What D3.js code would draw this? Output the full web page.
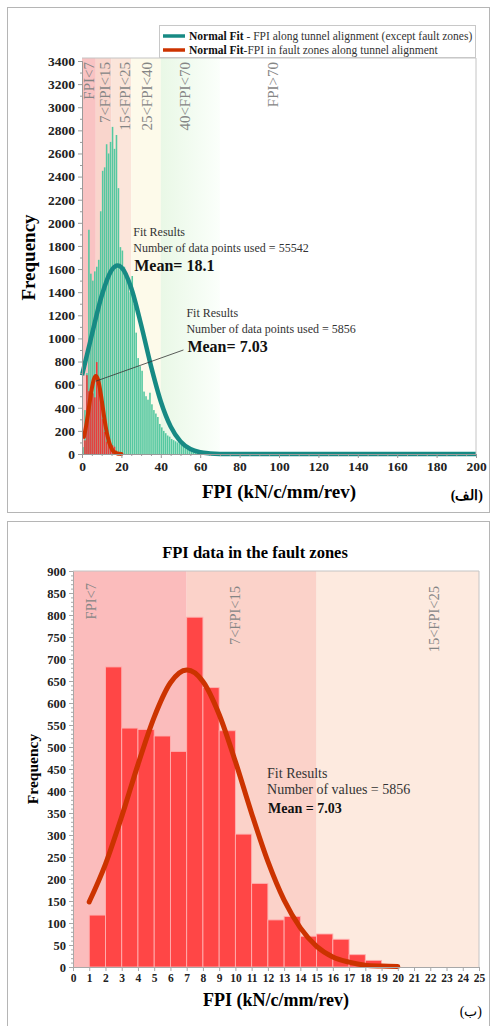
<!DOCTYPE html>
<html><head><meta charset="utf-8">
<script src="https://cdn.jsdelivr.net/npm/d3@7"></script>
<style>
body{margin:0;background:#fff}
svg{display:block}
text{font-family:"Liberation Serif","Times New Roman",serif}
</style>
</head><body>
<svg id="c" width="494" height="1026"></svg>
<script>
// ---------------- DATA ----------------
// Top chart: FPI histogram along tunnel alignment (except fault zones), bin width 1, starting at 0
const alignBinStart = d3.range(0, 66);
const alignCounts = [60, 380, 700, 1940, 1560, 1500, 1580, 1620, 1680, 2100,
  2450, 2480, 2680, 2600, 2700, 2830, 2640, 2760, 2300, 1790,
  1760, 1620, 1560, 1520, 1400, 1540, 1300, 1050, 830, 760,
  720, 540, 500, 470, 530, 430, 380, 350, 320, 260,
  230, 200, 180, 160, 150, 130, 120, 110, 100, 90,
  80, 75, 70, 60, 55, 50, 40, 35, 30, 25,
  20, 15, 10, 8, 5, 3];
// Fault zones histogram, bin width 1, starting at 1
const faultBinStart = d3.range(1, 20);
const faultCounts = [118, 682, 543, 540, 525, 490, 795, 635, 537, 302,
  190, 107, 115, 70, 75, 63, 28, 15, 5];
// Normal fit curves
const alignFitX = [0, 5, 10, 15, 18.1, 20, 25, 30, 35, 40, 45, 50, 55, 60, 65, 70, 80, 100, 150, 200];
const alignFitY = [681, 1032, 1369, 1589, 1630, 1614, 1436, 1118, 762, 454, 237, 108, 43, 15, 5, 1, 0, 0, 0, 0];
const faultFitX = [1, 2, 3, 4, 5, 6, 7, 7.03, 8, 9, 10, 11, 12, 13, 14, 15, 16, 17, 18, 19, 20];
const faultFitY = [148, 234, 342, 460, 568, 646, 675, 675, 649, 574, 467, 349, 240, 152, 89, 47, 23, 11, 4, 2, 1];
// FPI classes
const topBandLo = [0, 7, 15, 25, 40, 70];
const topBandHi = [7, 15, 25, 40, 70, 200];
const topBandLabels = ["FPI<7", "7<FPI<15", "15<FPI<25", "25<FPI<40", "40<FPI<70", "FPI>70"];
const botBandLo = [0, 7, 15];
const botBandHi = [7, 15, 25];
const botBandLabels = ["FPI<7", "7<FPI<15", "15<FPI<25"];
// Ticks
const topXTicks = d3.range(0, 201, 20);
const topYTicks = d3.range(0, 3401, 200);
const botXTicks = d3.range(0, 26, 1);
const botYTicks = d3.range(0, 901, 50);
// Texts
const legendBold = ["Normal Fit", "Normal Fit"];
const legendRest = [" - FPI along tunnel alignment (except fault zones)", "-FPI in fault zones along tunnel alignment"];
const fitAlignText = ["Fit Results", "Number of data points used = 55542", "Mean= 18.1"];
const fitFaultTopText = ["Fit Results", "Number of data points used = 5856", "Mean= 7.03"];
const fitFaultBotText = ["Fit Results", "Number of values = 5856", "Mean = 7.03"];

// ---------------- STYLE ----------------
const teal = "#178a84", redFit = "#cc3300", greenBar = "#55c8a0", redBar = "#e83c3c", botBar = "#ff4646";
const topBandColors = ["#f9c3c3", "#f9d5cc", "#fbe5da", "#fdfaea", "url(#gfade)", "#ffffff"];
const botBandColors = ["#fbbcbc", "#fbd2c9", "#fdeadf"];

const svg = d3.select("#c");
const defs = svg.append("defs");
const gr = defs.append("linearGradient").attr("id", "gfade").attr("x1", 0).attr("x2", 1).attr("y1", 0).attr("y2", 0);
gr.append("stop").attr("offset", 0).attr("stop-color", "#e9f8e6");
gr.append("stop").attr("offset", 1).attr("stop-color", "#fbfffb");

// panel frames
svg.append("rect").attr("x", 7.5).attr("y", 7.5).attr("width", 482).attr("height", 505)
  .attr("fill", "none").attr("stroke", "#b5b5b5");
svg.append("rect").attr("x", 7.5).attr("y", 521.5).attr("width", 482).attr("height", 520)
  .attr("fill", "none").attr("stroke", "#b5b5b5");

// ================= TOP CHART =================
const tx = d3.scaleLinear().domain([0, 200]).range([82, 476]);
const ty = d3.scaleLinear().domain([0, 3400]).range([454, 61]);
const topG = svg.append("g");

topG.selectAll("rect.band").data(topBandLo).join("rect")
  .attr("x", (d) => tx(d)).attr("width", (d, i) => tx(topBandHi[i]) - tx(d))
  .attr("y", ty(3400) - 3).attr("height", ty(0) - ty(3400) + 3)
  .attr("fill", (d, i) => topBandColors[i]);

const topLabelAt = [3.5, 11.8, 22, 33, 52.5, 97];
topG.selectAll("text.bl").data(topBandLabels).join("text")
  .attr("transform", (d, i) => `translate(${tx(topLabelAt[i]) + 5},${ty(3400) + 1}) rotate(-90)`)
  .attr("text-anchor", "end").attr("font-size", 15).attr("fill", "#858585").text((d) => d);

const bw = tx(1) - tx(0);
topG.selectAll("rect.g").data(alignCounts).join("rect")
  .attr("x", (d, i) => tx(alignBinStart[i]) + 0.2).attr("width", bw - 0.4)
  .attr("y", (d) => ty(d)).attr("height", (d) => ty(0) - ty(d)).attr("fill", greenBar);

topG.selectAll("rect.r").data(faultCounts).join("rect")
  .attr("x", (d, i) => tx(faultBinStart[i]) + 0.2).attr("width", bw - 0.4)
  .attr("y", (d) => ty(d)).attr("height", (d) => ty(0) - ty(d)).attr("fill", redBar);

const tLine = d3.line().x((d) => tx(d[0])).y((d) => ty(d[1])).curve(d3.curveMonotoneX);
topG.append("path").attr("d", tLine(alignFitX.map((x, i) => [x, alignFitY[i]])))
  .attr("fill", "none").attr("stroke", teal).attr("stroke-width", 4.5);
topG.append("path").attr("d", tLine(faultFitX.map((x, i) => [x, faultFitY[i]])))
  .attr("fill", "none").attr("stroke", redFit).attr("stroke-width", 4).attr("stroke-linecap", "round");

// annotation pointer
topG.append("line").attr("x1", tx(7.03)).attr("y1", ty(630)).attr("x2", tx(51.5)).attr("y2", ty(900))
  .attr("stroke", "#333").attr("stroke-width", 0.8);

function fitBlock(g, x, y, lines, fs, bfs, gap) {
  lines.forEach((t, i) => {
    g.append("text").attr("x", x + (i === 2 ? 1 : 0)).attr("y", y + i * gap + (i === 2 ? 3 : 0))
      .attr("font-size", i === 2 ? bfs : fs).attr("font-weight", i === 2 ? "bold" : "normal")
      .attr("fill", i === 2 ? "#111" : "#333").text(t);
  });
}
fitBlock(topG, tx(26), ty(1885), fitAlignText, 12, 16, 16);
fitBlock(topG, tx(53), ty(1184), fitFaultTopText, 12, 16, 16);

// axes
const tyAxis = topG.append("g").attr("transform", `translate(${tx(0)},0)`)
  .call(d3.axisLeft(ty).tickValues(topYTicks).tickSize(4).tickPadding(3).tickFormat(d3.format("d")));
topG.append("g").attr("transform", `translate(${tx(0)},0)`)
  .call(d3.axisLeft(ty).tickValues(d3.range(100, 3400, 200)).tickSize(2).tickFormat(""));
const txAxis = topG.append("g").attr("transform", `translate(0,${ty(0)})`)
  .call(d3.axisBottom(tx).tickValues(topXTicks).tickSize(4).tickPadding(3));
topG.append("g").attr("transform", `translate(0,${ty(0)})`)
  .call(d3.axisBottom(tx).tickValues(d3.range(5, 200, 5).filter((v) => v % 20)).tickSize(2).tickFormat(""));
[tyAxis, txAxis].forEach((a) => a.selectAll("text").attr("font-size", 13.5).attr("font-weight", "bold")
  .attr("fill", "#222").attr("font-family", "Liberation Serif"));
topG.selectAll(".domain, .tick line").attr("stroke", "#9a9a9a");

// plot frame right/top
topG.append("path").attr("d", `M${tx(0)},${ty(3400) - 3}H${tx(200)}V${ty(0)}`)
  .attr("fill", "none").attr("stroke", "#c4c4c4");

topG.append("text").attr("transform", `translate(35,${(ty(0) + ty(3400)) / 2}) rotate(-90)`)
  .attr("text-anchor", "middle").attr("font-size", 19).attr("font-weight", "bold").text("Frequency");
topG.append("text").attr("x", (tx(0) + tx(200)) / 2).attr("y", 498).attr("text-anchor", "middle")
  .attr("font-size", 19).attr("font-weight", "bold").text("FPI (kN/c/mm/rev)");
topG.append("text").attr("x", 483).attr("y", 500).attr("text-anchor", "end")
  .attr("font-size", 14).attr("font-weight", "bold").attr("font-family", "DejaVu Sans").text("(الف)");

// legend
const lg = topG.append("g");
lg.append("rect").attr("x", 159.5).attr("y", 25.5).attr("width", 316).attr("height", 32)
  .attr("fill", "#fff").attr("stroke", "#c8c8c8");
[teal, redFit].forEach((c, i) => {
  const yy = 36 + i * 14;
  lg.append("line").attr("x1", 163).attr("x2", 185).attr("y1", yy).attr("y2", yy)
    .attr("stroke", c).attr("stroke-width", 3.5);
  const t = lg.append("text").attr("x", 189).attr("y", yy + 4).attr("font-size", 11.5).attr("fill", "#333");
  t.append("tspan").attr("font-weight", "bold").attr("fill", "#111").text(legendBold[i]);
  t.append("tspan").text(legendRest[i]);
});

// ================= BOTTOM CHART =================
const bx = d3.scaleLinear().domain([0, 25]).range([73, 479]);
const by = d3.scaleLinear().domain([0, 900]).range([967, 571]);
const botG = svg.append("g");

botG.append("text").attr("x", 255).attr("y", 558).attr("text-anchor", "middle")
  .attr("font-size", 16.5).attr("font-weight", "bold").text("FPI data in the fault zones");

botG.selectAll("rect.band").data(botBandLo).join("rect")
  .attr("x", (d) => bx(d)).attr("width", (d, i) => bx(botBandHi[i]) - bx(d))
  .attr("y", by(900)).attr("height", by(0) - by(900))
  .attr("fill", (d, i) => botBandColors[i]);

const botLabelAt = [1.1, 10, 22.2];
botG.selectAll("text.bl").data(botBandLabels).join("text")
  .attr("transform", (d, i) => `translate(${bx(botLabelAt[i]) + 5},${by(900) + 12 + (i ? 3 : 0)}) rotate(-90)`)
  .attr("text-anchor", "end").attr("font-size", 14.5).attr("fill", "#858585").text((d) => d);

const bbw = bx(1) - bx(0);
botG.selectAll("rect.r").data(faultCounts).join("rect")
  .attr("x", (d, i) => bx(faultBinStart[i])).attr("width", bbw)
  .attr("y", (d) => by(d)).attr("height", (d) => by(0) - by(d))
  .attr("fill", botBar).attr("stroke", "#ffb0b0").attr("stroke-width", 0.9);

const bLine = d3.line().x((d) => bx(d[0])).y((d) => by(d[1])).curve(d3.curveMonotoneX);
botG.append("path").attr("d", bLine(faultFitX.map((x, i) => [x, faultFitY[i]])))
  .attr("fill", "none").attr("stroke", redFit).attr("stroke-width", 5).attr("stroke-linecap", "round");

fitBlock(botG, bx(11.95), 778, fitFaultBotText, 14, 14, 16);

const byAxis = botG.append("g").attr("transform", `translate(${bx(0)},0)`)
  .call(d3.axisLeft(by).tickValues(botYTicks).tickSize(4).tickPadding(3));
botG.append("g").attr("transform", `translate(${bx(0)},0)`)
  .call(d3.axisLeft(by).tickValues(d3.range(10, 900, 10).filter((v) => v % 50)).tickSize(2).tickFormat(""));
const bxAxis = botG.append("g").attr("transform", `translate(0,${by(0)})`)
  .call(d3.axisBottom(bx).tickValues(botXTicks).tickSize(4).tickPadding(3));
byAxis.selectAll("text").attr("font-size", 12.5).attr("font-weight", "bold").attr("fill", "#222")
  .attr("font-family", "Liberation Serif");
bxAxis.selectAll("text").attr("font-size", 11.5).attr("font-weight", "bold").attr("fill", "#222")
  .attr("font-family", "Liberation Serif");
botG.selectAll(".domain, .tick line").attr("stroke", "#a8a8a8");
botG.append("path").attr("d", `M${bx(0)},${by(900)}H${bx(25)}V${by(0)}`)
  .attr("fill", "none").attr("stroke", "#c4c4c4");

botG.append("text").attr("transform", `translate(38,${(by(0) + by(900)) / 2}) rotate(-90)`)
  .attr("text-anchor", "middle").attr("font-size", 15.5).attr("font-weight", "bold").text("Frequency");
botG.append("text").attr("x", (bx(0) + bx(25)) / 2).attr("y", 1006).attr("text-anchor", "middle")
  .attr("font-size", 18).attr("font-weight", "bold").text("FPI (kN/c/mm/rev)");
botG.append("text").attr("x", 482).attr("y", 1016).attr("text-anchor", "end")
  .attr("font-size", 14).attr("font-family", "DejaVu Sans").text("(ب)");
</script>
</body></html>
